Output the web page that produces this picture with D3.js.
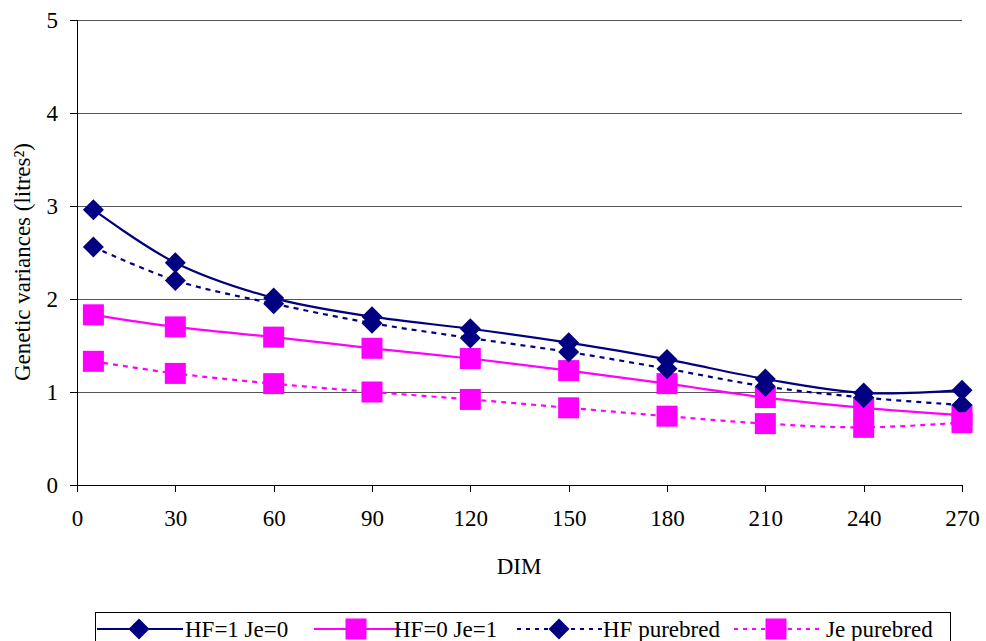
<!DOCTYPE html>
<html><head><meta charset="utf-8">
<script src="https://cdn.jsdelivr.net/npm/d3@7"></script>
</head><body style="margin:0;background:#fff"><svg id="c" width="986" height="641" font-family="Liberation Serif" style="display:block"></svg>
<script>
const dim = [5, 30, 60, 90, 120, 150, 180, 210, 240, 270];
const hf1je0 = [2.96, 2.39, 2.01, 1.81, 1.68, 1.53, 1.35, 1.14, 0.99, 1.02];
const hf0je1 = [1.83, 1.70, 1.59, 1.47, 1.36, 1.23, 1.09, 0.94, 0.83, 0.75];
const hfPure = [2.56, 2.20, 1.95, 1.74, 1.58, 1.43, 1.25, 1.06, 0.94, 0.86];
const jePure = [1.33, 1.20, 1.09, 1.00, 0.92, 0.83, 0.74, 0.66, 0.62, 0.67];
const xTicks = [0, 30, 60, 90, 120, 150, 180, 210, 240, 270];
const yTicks = [0, 1, 2, 3, 4, 5];
const seriesNames = ["HF=1 Je=0", "HF=0 Je=1", "HF purebred", "Je purebred"];
const FONT = "Liberation Serif";
const FS = 23;

const series = [
  {name: seriesNames[0], values: hf1je0, color: "#000080", marker: "diamond", dash: null},
  {name: seriesNames[1], values: hf0je1, color: "#FF00FF", marker: "square", dash: null},
  {name: seriesNames[2], values: hfPure, color: "#000080", marker: "diamond", dash: "5,5"},
  {name: seriesNames[3], values: jePure, color: "#FF00FF", marker: "square", dash: "5,5"}
];

const svg = d3.select("#c");
const x = d3.scaleLinear().domain([0, 270]).range([77, 962]);
const y = d3.scaleLinear().domain([0, 5]).range([485, 20]);

svg.append("g").selectAll("line").data(yTicks.filter(d => d > 0)).join("line")
  .attr("x1", x(0)).attr("x2", x(270)).attr("y1", d => y(d)).attr("y2", d => y(d))
  .attr("stroke", "#555").attr("stroke-width", 1).attr("shape-rendering", "crispEdges");

const yAxis = svg.append("g").attr("transform", `translate(${x(0)},0)`)
  .call(d3.axisLeft(y).tickValues(yTicks).tickSize(7).tickPadding(12).tickFormat(d3.format("d")));
const xAxis = svg.append("g").attr("transform", `translate(0,${y(0)})`)
  .call(d3.axisBottom(x).tickValues(xTicks).tickSize(7).tickPadding(18).tickFormat(d3.format("d")));
[yAxis, xAxis].forEach(a => {
  a.attr("font-family", FONT).attr("font-size", FS);
  a.select(".domain").attr("stroke", "#000").attr("shape-rendering", "crispEdges");
  a.selectAll(".tick line").attr("stroke", "#000").attr("shape-rendering", "crispEdges");
  a.selectAll("text").attr("fill", "#000").attr("font-family", FONT);
});
xAxis.select(".domain").attr("d", `M${x(0)},0H${x(270)}`);
yAxis.select(".domain").attr("d", `M0,${y(0)}V${y(5)}`);

svg.append("text").attr("x", 519).attr("y", 574).attr("text-anchor", "middle")
  .attr("font-family", FONT).attr("font-size", FS).text("DIM");
svg.append("text").attr("transform", "translate(30,262) rotate(-90)").attr("text-anchor", "middle")
  .attr("font-family", FONT).attr("font-size", FS).text("Genetic variances (litres²)");

const line = d3.line().x((d, i) => x(dim[i])).y(d => y(d)).curve(d3.curveCatmullRom.alpha(0.5));
const diamond = s => `M0,${-s}L${s},0L0,${s}L${-s},0Z`;
function marker(g, type, color) {
  if (type === "diamond") g.append("path").attr("d", diamond(10.5)).attr("fill", color);
  else g.append("rect").attr("x", -10.5).attr("y", -10.5).attr("width", 21).attr("height", 21).attr("fill", color);
}

const sg = svg.append("g").selectAll("g").data(series).join("g");
sg.append("path").attr("d", d => line(d.values)).attr("fill", "none")
  .attr("stroke", d => d.color).attr("stroke-width", 2.2).attr("stroke-dasharray", d => d.dash);
sg.each(function(d) {
  const g = d3.select(this);
  d.values.forEach((v, i) => {
    const m = g.append("g").attr("transform", `translate(${x(dim[i])},${y(v)})`);
    marker(m, d.marker, d.color);
  });
});

const lg = svg.append("g");
lg.append("rect").attr("x", 95.5).attr("y", 612.5).attr("width", 855).attr("height", 40)
  .attr("fill", "#fff").attr("stroke", "#000");
const legX = [93, 310, 513, 730];
const legText = [185, 394, 603, 826];
series.forEach((s, i) => {
  const g = lg.append("g");
  g.append("line").attr("x1", legX[i]+4).attr("x2", legX[i]+90).attr("y1", 629).attr("y2", 629)
    .attr("stroke", s.color).attr("stroke-width", 2.2).attr("stroke-dasharray", s.dash ? "4,5" : null);
  const m = g.append("g").attr("transform", `translate(${legX[i]+46},629)`);
  marker(m, s.marker, s.color);
  g.append("text").attr("x", legText[i]).attr("y", 637).attr("font-size", FS)
    .attr("font-family", FONT).text(s.name);
});
</script></body></html>
